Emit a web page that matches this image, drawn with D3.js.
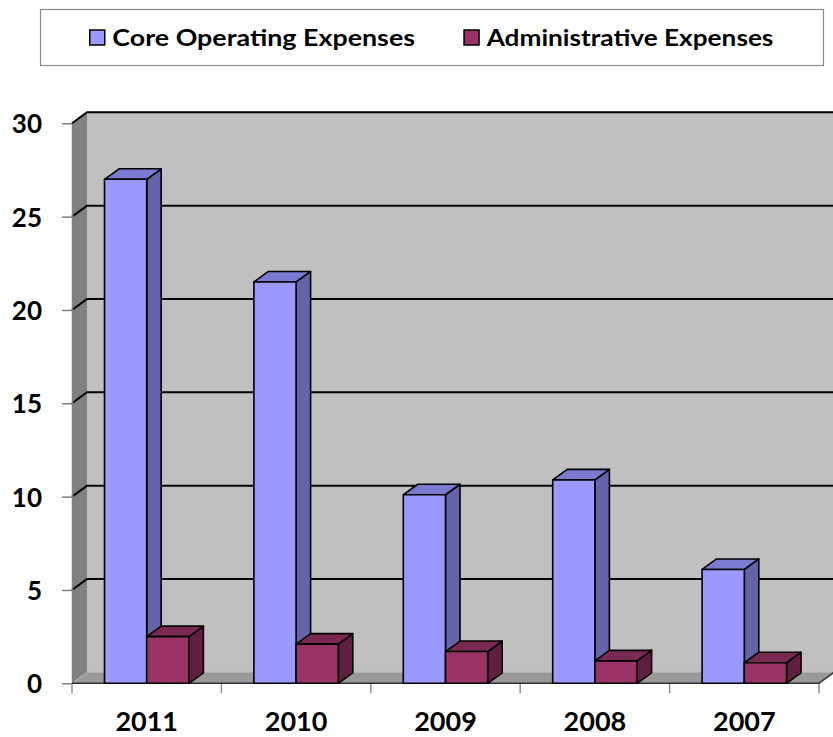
<!DOCTYPE html>
<html>
<head>
<meta charset="utf-8">
<script src="https://cdn.jsdelivr.net/npm/d3@7"></script>
<style>
  html, body { margin: 0; padding: 0; background: #ffffff; }
  svg { display: block; }
  text { font-family: Lato, "Open Sans", sans-serif; font-weight: bold; fill: #000; }
</style>
</head>
<body>
<svg id="chart" width="833" height="737"></svg>
<script>
// Expense data by year
const years = ["2011", "2010", "2009", "2008", "2007"];
const coreExpenses = [27.0, 21.5, 10.1, 10.9, 6.1];
const adminExpenses = [2.5, 2.1, 1.7, 1.2, 1.1];
const seriesNames = ["Core Operating Expenses", "Administrative Expenses"];
const yTicks = [0, 5, 10, 15, 20, 25, 30];

// Face colours for each series: front, top, side
const seriesColors = [
  { front: "#9999ff", top: "#7a7ad0", side: "#6464a8" },
  { front: "#993366", top: "#7a2952", side: "#5e1f40" }
];

const svg = d3.select("#chart");

// Plot frame (front plane) and depth of the 3D box
const plot = { left: 72, right: 819, top: 123.3, bottom: 683.3 };
const wallDepth = { dx: 15, dy: -11 };
const barDepth = { dx: 14.5, dy: -10.5 };

const x = d3.scaleBand().domain(years).range([plot.left, plot.right]).padding(0);
const y = d3.scaleLinear().domain([0, 30]).range([plot.bottom, plot.top]);
const xs = d3.scaleBand().domain(seriesNames).range([0, x.bandwidth()])
  .paddingInner(0).paddingOuter(0.77);

const rows = years.map((yr, i) => ({ year: yr, values: [coreExpenses[i], adminExpenses[i]] }));

// ---- Walls and floor ----
const backX0 = plot.left + wallDepth.dx;
const backX1 = 834;
const g = svg.append("g");

// back wall
g.append("rect")
  .attr("x", backX0).attr("y", y(30) + wallDepth.dy)
  .attr("width", backX1 - backX0).attr("height", y(0) - y(30))
  .attr("fill", "#c0c0c0");

// left side wall
g.append("path")
  .attr("d", d3.line()([
    [plot.left, y(30)], [backX0, y(30) + wallDepth.dy],
    [backX0, y(0) + wallDepth.dy], [plot.left, y(0)]
  ]))
  .attr("fill", "#808080");

// floor
g.append("path")
  .attr("d", d3.line()([
    [plot.left, y(0)], [backX0, y(0) + wallDepth.dy],
    [backX1, y(0) + wallDepth.dy], [plot.right + wallDepth.dx, y(0) + wallDepth.dy],
    [plot.right, y(0)]
  ]) + "Z")
  .attr("fill", "#999999");

// gridlines across the left wall and the back wall
yTicks.forEach(t => {
  const yf = y(t), yb = y(t) + wallDepth.dy;
  g.append("path")
    .attr("d", d3.line()([[plot.left, yf], [backX0, yb], [backX1, yb]]))
    .attr("fill", "none")
    .attr("stroke", t === 0 ? "#b0b0b0" : "#000")
    .attr("stroke-width", t === 0 ? 1 : 2);
});

// ---- Axes ----
const yAxis = svg.append("g")
  .attr("transform", `translate(${plot.left},0)`)
  .call(d3.axisLeft(y).tickValues(yTicks).tickSize(10).tickSizeOuter(0).tickPadding(20));
yAxis.select(".domain").attr("stroke", "#808080").attr("stroke-width", 1.5);
yAxis.selectAll(".tick line").attr("stroke", "#808080").attr("stroke-width", 1.5);
yAxis.selectAll(".tick text")
  .attr("dy", "0.36em")
  .style("font-family", "Lato, 'Open Sans', sans-serif")
  .style("font-weight", "bold")
  .style("font-size", "26px")
  .attr("fill", "#000");

const xAxis = svg.append("g")
  .attr("transform", `translate(0,${plot.bottom})`)
  .call(d3.axisBottom(x).tickSize(0).tickSizeOuter(0));
xAxis.select(".domain").remove();
xAxis.selectAll(".tick text")
  .attr("y", 48).attr("dy", 0)
  .style("font-family", "Lato, 'Open Sans', sans-serif")
  .style("font-weight", "bold")
  .style("font-size", "27px")
  .attr("fill", "#000");

// category boundary ticks below the floor
const boundaries = years.map(d => x(d)).concat([x.range()[1]]);
svg.append("g").selectAll("line").data(boundaries).join("line")
  .attr("x1", d => d).attr("x2", d => d)
  .attr("y1", plot.bottom).attr("y2", plot.bottom + 10)
  .attr("stroke", "#909090").attr("stroke-width", 1.5);

// front and right edges of the floor
svg.append("path")
  .attr("d", d3.line()([[plot.left, y(0)], [plot.right, y(0)], [plot.right + wallDepth.dx, y(0) + wallDepth.dy]]))
  .attr("fill", "none").attr("stroke", "#303030").attr("stroke-width", 1.5);

// ---- 3D columns ----
const bars = svg.append("g")
  .attr("stroke", "#000").attr("stroke-width", 1.6).attr("stroke-linejoin", "round");

rows.forEach(row => {
  row.values.forEach((v, si) => {
    const x0 = x(row.year) + xs(seriesNames[si]);
    const x1 = x0 + xs.bandwidth();
    const yTop = y(v), yBase = y(0);
    const dx = barDepth.dx, dy = barDepth.dy;
    const c = seriesColors[si];
    // side face
    bars.append("path")
      .attr("d", d3.line()([[x1, yBase], [x1 + dx, yBase + dy], [x1 + dx, yTop + dy], [x1, yTop]]) + "Z")
      .attr("fill", c.side);
    // top face
    bars.append("path")
      .attr("d", d3.line()([[x0, yTop], [x0 + dx, yTop + dy], [x1 + dx, yTop + dy], [x1, yTop]]) + "Z")
      .attr("fill", c.top);
    // front face
    bars.append("rect")
      .attr("x", x0).attr("y", yTop)
      .attr("width", x1 - x0).attr("height", yBase - yTop)
      .attr("fill", c.front);
  });
});

// ---- Legend ----
const legend = svg.append("g");
legend.append("rect")
  .attr("x", 40.5).attr("y", 9.5).attr("width", 783).attr("height", 56)
  .attr("fill", "#fff").attr("stroke", "#8a8a8a").attr("stroke-width", 1.2);

const legendItems = [
  { name: seriesNames[0], color: seriesColors[0].front, box: 89, text: 112.3, width: 302.7 },
  { name: seriesNames[1], color: seriesColors[1].front, box: 463.3, text: 486.7, width: 286.7 }
];
legendItems.forEach(item => {
  legend.append("rect")
    .attr("x", item.box + 0.75).attr("y", 30)
    .attr("width", 15).attr("height", 15)
    .attr("fill", item.color).attr("stroke", "#000").attr("stroke-width", 1.5);
  legend.append("text")
    .attr("x", item.text).attr("y", 45.5)
    .style("font-size", "22px")
    .attr("textLength", item.width)
    .attr("lengthAdjust", "spacingAndGlyphs")
    .text(item.name);
});
</script>
</body>
</html>
